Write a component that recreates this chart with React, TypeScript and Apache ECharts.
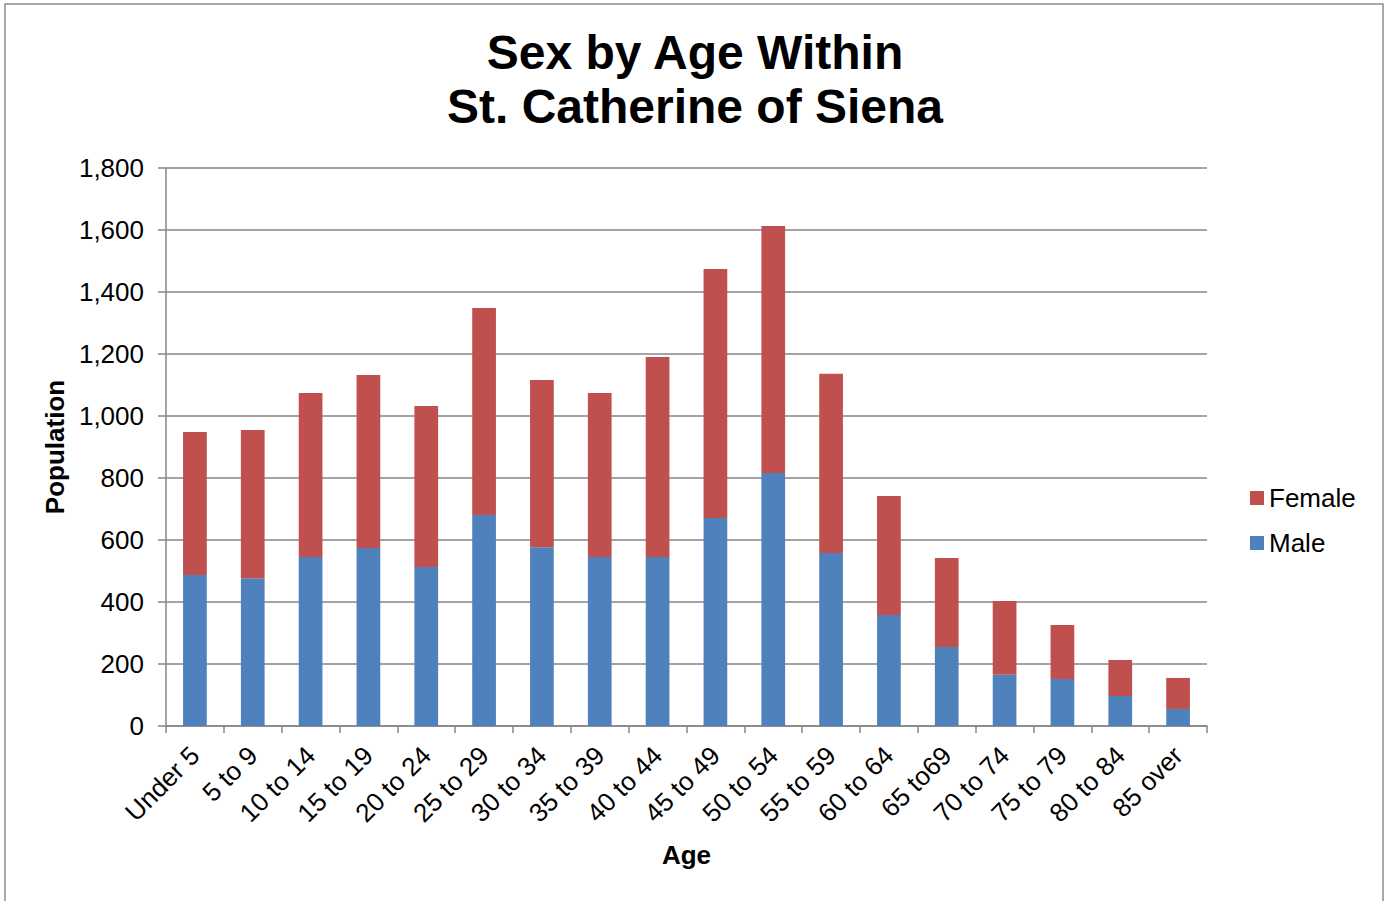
import React, { useEffect, useRef } from "react";
import * as echarts from "echarts";

const categories = [
  "Under 5", "5 to 9", "10 to 14", "15 to 19", "20 to 24", "25 to 29", "30 to 34",
  "35 to 39", "40 to 44", "45 to 49", "50 to 54", "55 to 59", "60 to 64", "65 to69",
  "70 to 74", "75 to 79", "80 to 84", "85 over",
];
const maleValues = [487, 477, 545, 574, 513, 681, 577, 545, 545, 671, 816, 558, 358, 255, 165, 152, 97, 55];
const femaleValues = [461, 478, 529, 558, 519, 667, 539, 529, 645, 803, 797, 578, 384, 287, 238, 174, 116, 100];
const titleLines = ["Sex by Age Within", "St. Catherine of Siena"];

export default function App() {
  const ref = useRef<HTMLDivElement>(null);
  useEffect(() => {
    if (!ref.current) return;
    const chart = echarts.init(ref.current, null, { renderer: "svg" });
    const font = "'Liberation Sans', Arial, sans-serif";
    chart.setOption({
      animation: false,
      backgroundColor: "#ffffff",
      textStyle: { fontFamily: font },
      title: {
        text: titleLines.join("\n"),
        left: 690,
        textAlign: "center",
        top: 20,
        textStyle: { fontFamily: font, fontSize: 48, fontWeight: "bold", color: "#000", lineHeight: 54 },
      },
      graphic: [
        {
          type: "rect",
          shape: { x: 5, y: 4, width: 1378, height: 905 },
          style: { fill: "none", stroke: "#8c8c8c", lineWidth: 1.5 },
          silent: true,
        },
      ],
      legend: {
        data: ["Female", "Male"],
        orient: "vertical",
        left: 1245,
        top: 480,
        itemWidth: 14,
        itemHeight: 14,
        itemGap: 19,
        icon: "rect",
        textStyle: { fontFamily: font, fontSize: 26, color: "#000", padding: [0, 0, 0, 0] },
      },
      grid: { left: 166, right: 179, top: 168, bottom: 175 },
      xAxis: {
        type: "category",
        data: categories,
        name: "Age",
        nameLocation: "middle",
        nameGap: 116,
        nameTextStyle: { fontFamily: font, fontSize: 26, fontWeight: "bold", color: "#000" },
        axisLine: { lineStyle: { color: "#868686", width: 1.5 } },
        axisTick: { show: true, alignWithLabel: false, length: 7, lineStyle: { color: "#868686", width: 1.5 } },
        axisLabel: { rotate: 45, fontFamily: font, fontSize: 26, color: "#000", margin: 25, interval: 0 },
      },
      yAxis: {
        type: "value",
        min: 0,
        max: 1800,
        interval: 200,
        name: "Population",
        nameLocation: "middle",
        nameGap: 98,
        nameRotate: 90,
        nameTextStyle: { fontFamily: font, fontSize: 26, fontWeight: "bold", color: "#000" },
        axisLine: { show: true, lineStyle: { color: "#868686", width: 1.5 } },
        axisTick: { show: true, length: 8, inside: false, lineStyle: { color: "#868686", width: 1.5 } },
        axisLabel: {
          fontFamily: font,
          fontSize: 26,
          color: "#000",
          margin: 22,
          formatter: (v: number) => v.toLocaleString("en-US"),
        },
        splitLine: { show: true, lineStyle: { color: "#868686", width: 1.5 } },
      },
      series: [
        {
          name: "Male",
          type: "bar",
          stack: "total",
          data: maleValues,
          barWidth: "41%",
          itemStyle: { color: "#4F81BD" },
        },
        {
          name: "Female",
          type: "bar",
          stack: "total",
          data: femaleValues,
          barWidth: "41%",
          itemStyle: { color: "#C0504D" },
        },
      ],
    });
    return () => chart.dispose();
  }, []);
  return (
    <div
      ref={ref}
      style={{ position: "fixed", left: 0, top: 0, width: 1386, height: 901 }}
    />
  );
}
